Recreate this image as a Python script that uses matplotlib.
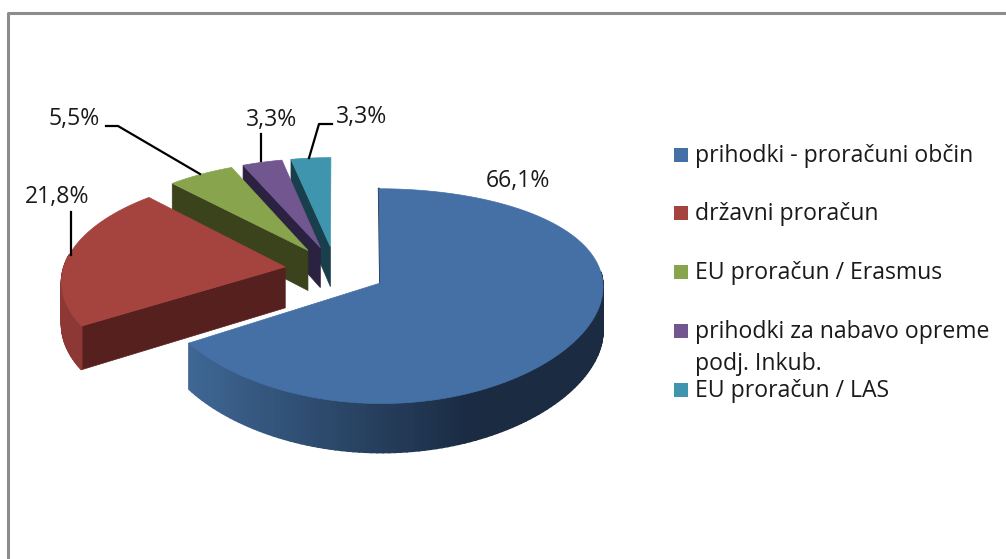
import numpy as np
import matplotlib
matplotlib.use('Agg')
import matplotlib.pyplot as plt
from matplotlib.colors import to_rgb
from matplotlib.patches import Polygon, Rectangle

plt.rcParams['font.family'] = ['Open Sans', 'DejaVu Sans']

# data
labels = ['prihodki - proračuni občin', 'državni proračun', 'EU proračun / Erasmus',
          'prihodki za nabavo opreme\npodj. Inkub.', 'EU proračun / LAS']
shares = [66.1, 21.8, 5.5, 3.3, 3.3]
share_text = ['66,1%', '21,8%', '5,5%', '3,3%', '3,3%']

top_colors = ['#4570A6', '#A5433F', '#88A54D', '#71568F', '#3F95AE']
wall_light = ['#3F6795', '#8E3835', '#5E7336', '#4E3B63', '#2C6779']
wall_dark = ['#1A2B42', '#55201E', '#3A431C', '#2B2140', '#1A3F4C']
cut_colors = ['#1A2B42', '#55201E', '#3A431C', '#2B2140', '#1A3F4C']

# label position and leader line of each slice, in pixels
text_pos = [(518, 181), (57, 197), (74, 119), (272, 120), (362, 117)]
leaders = [None,
           ([71, 71], [212, 255]),
           ([106, 118, 200], [126, 126, 174]),
           ([261, 261], [134, 161]),
           ([332, 319, 309], [124, 124, 158])]
legend_y = [155, 213, 272, 331, 390]

# fake 3d view, the big slice needs its own numbers to sit like the original
cx = 335.5
cy = [271.5, 270, 270, 270, 270]
Rx = 222
Ry = [103, 105, 105, 105, 105]
persp = 0.12
persp_x = [0.03, 0.12, 0.12, 0.12, 0.12]
depth = [42.5, 41, 41, 41, 41]
explode = 0.229


def project(i, u, v, z=0.0):
    s = 1 / (1 + persp * v)
    sx = 1 / (1 + persp_x[i] * v)
    return cx + Rx * u * sx, cy[i] - Ry[i] * v * s + depth[i] * z * s


fig = plt.figure(figsize=(10.06, 5.59), dpi=100)
ax = fig.add_axes([0, 0, 1, 1])
ax.set_xlim(0, 1006)
ax.set_ylim(559, 0)
ax.axis('off')

# frame of the chart
ax.plot([8.5, 8.5, 1006], [559, 12.5, 12.5], color='#8C8C8C', lw=2.2, zorder=1)

edges = np.cumsum([0] + shares) / np.sum(shares) * 2 * np.pi
z = 2
for i in range(len(shares) - 1, -1, -1):
    a, b = edges[i], edges[i + 1]
    mid = (a + b) / 2
    du, dv = explode * np.sin(mid), explode * np.cos(mid)
    t = np.linspace(a, b, 160)
    us, vs = du + np.sin(t), dv + np.cos(t)

    # cut face that looks to the viewer
    if np.sin(a) < -0.01:
        p = [project(i, du, dv), project(i, us[0], vs[0]), project(i, us[0], vs[0], 1), project(i, du, dv, 1)]
        ax.add_patch(Polygon(p, closed=True, fc=cut_colors[i], ec=cut_colors[i], lw=0.5, zorder=z))
    else:
        # blue starts at 12 o'clock, only a thin dark edge shows
        ax.plot(*zip(project(i, du, dv), project(i, us[0], vs[0])), color=cut_colors[i], lw=1.4, zorder=z)
    z += 1

    # outer wall, shaded strip by strip
    for k in range(len(t) - 1):
        if np.cos(t[k]) > 0.12:
            continue
        f = np.clip((np.sin(t[k]) + 0.85) / 1.25, 0, 1)
        c = (1 - f) * np.array(to_rgb(wall_light[i])) + f * np.array(to_rgb(wall_dark[i]))
        p = [project(i, us[k], vs[k]), project(i, us[k + 1], vs[k + 1]),
             project(i, us[k + 1], vs[k + 1], 1), project(i, us[k], vs[k], 1)]
        ax.add_patch(Polygon(p, closed=True, fc=c, ec=c, lw=1.2, zorder=z))
    z += 1

    # top face
    xy = [project(i, du, dv)] + [project(i, u, v) for u, v in zip(us, vs)]
    ax.add_patch(Polygon(xy, closed=True, fc=top_colors[i], ec=top_colors[i], lw=0.5, zorder=z))
    z += 1

for i in range(len(shares)):
    ax.text(text_pos[i][0], text_pos[i][1], share_text[i], fontsize=16.6, color='#1A1A1A',
            ha='center', va='center', zorder=50)
    if leaders[i] is not None:
        ax.plot(leaders[i][0], leaders[i][1], color='black', lw=1.6, zorder=50)

# legend
for i in range(len(labels)):
    ax.add_patch(Rectangle((674, legend_y[i] - 7), 14, 14, fc=top_colors[i], ec='none', zorder=50))
    ax.text(695, legend_y[i] - 11, labels[i], fontsize=16.6, color='#1A1A1A', ha='left', va='top',
            linespacing=1.42, zorder=50)

fig.savefig('out.png', dpi=100)
